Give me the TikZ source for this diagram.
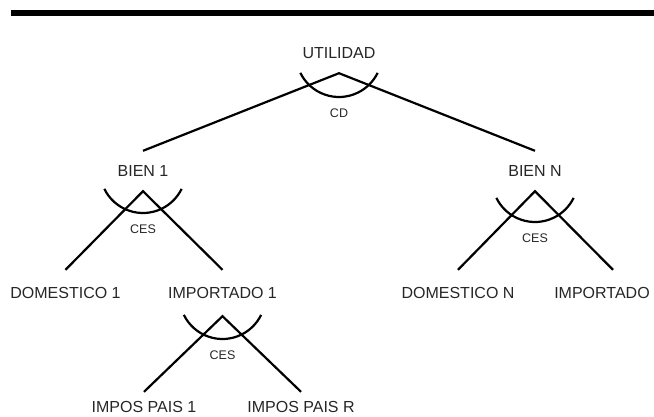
\documentclass[tikz,border=0pt]{standalone}
\usepackage{fontspec}
\setmainfont{Liberation Sans}
\begin{document}
\begin{tikzpicture}[x=1pt, y=1pt,
    lvl/.style={font=\fontsize{16}{18}\selectfont, text=black!85, inner sep=0pt, minimum height=40pt},
    leaf/.style={lvl, minimum height=46pt},
    base/.style={lvl, minimum height=30pt},
    fn/.style={font=\fontsize{12.5}{14}\selectfont, text=black!85, inner sep=0pt},
    branch/.style={line width=2.2pt}]
        \useasboundingbox (0, 0) rectangle (654, -416);
        \draw[line width=6pt] (11, -13) -- (654, -13);

        \node[lvl] (util) at (339, -53) {UTILIDAD};
        \node[lvl] (bien1) at (143, -171) {BIEN 1};
        \node[lvl] (bienN) at (535, -171) {BIEN N};
        \node[leaf] (dom1) at (65.5, -293) {DOMESTICO 1};
        \node[leaf] (imp1) at (222.5, -293) {IMPORTADO 1};
        \node[leaf] (domN) at (458, -293) {DOMESTICO N};
        \node[leaf] (impN) at (602, -293) {IMPORTADO};
        \node[base] (ip1) at (144, -407) {IMPOS PAIS 1};
        \node[base] (ipR) at (301, -407) {IMPOS PAIS R};

        \draw[branch] (bien1.north) -- (util.south) -- (bienN.north);
        \draw[branch] (dom1.north) -- (bien1.south) -- (imp1.north);
        \draw[branch] (domN.north) -- (bienN.south) -- ([xshift=11pt]impN.north);
        \draw[branch] (ip1.north) -- (imp1.south) -- (ipR.north);

        \foreach \n/\d/\t in {util/-1/CD, bien1/1/CES, bienN/-8/CES, imp1/-3/CES} {
          \draw[branch] ([yshift=\d pt]\n.center) ++(206:43pt) arc[start angle=206, end angle=334, radius=43pt];
          \node[fn] (\n-fn) at ([yshift={(\d-59)*1pt}]\n.center) {\t};
        }
      \end{tikzpicture}
\end{document}
